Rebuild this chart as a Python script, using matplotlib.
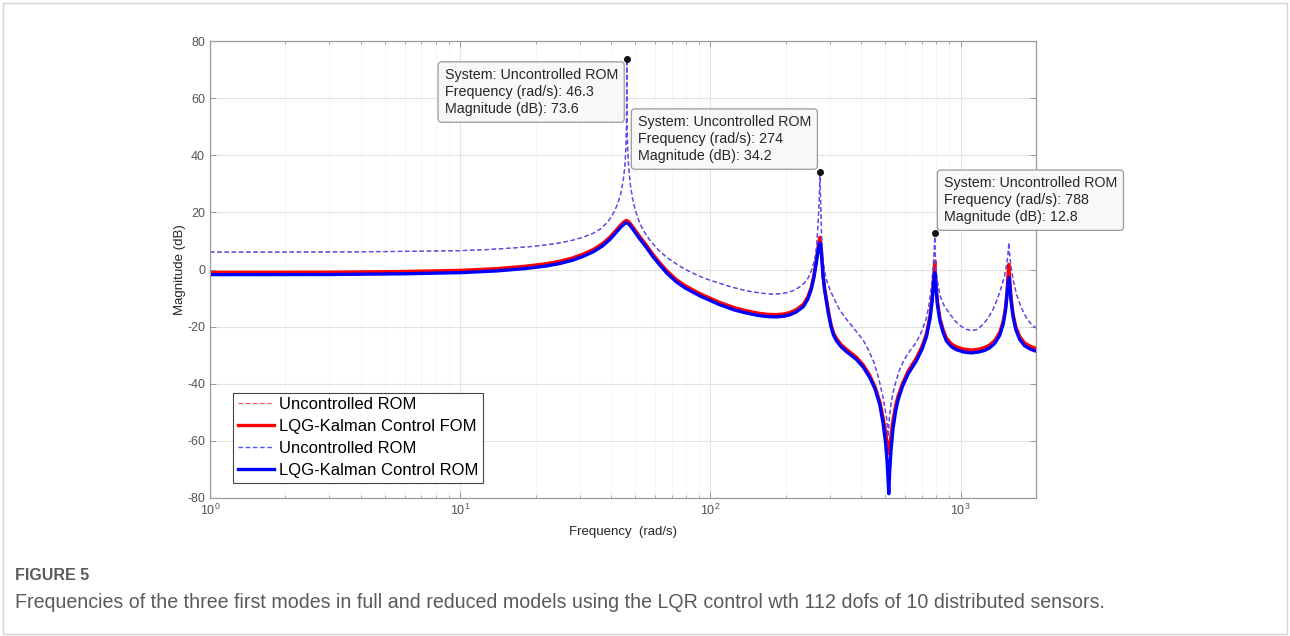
import matplotlib
matplotlib.use('Agg')
import matplotlib.pyplot as plt
from matplotlib.patches import Rectangle
from matplotlib.ticker import LogLocator, NullFormatter

plt.rcParams['font.family'] = ['Liberation Sans', 'DejaVu Sans']
plt.rcParams['axes.unicode_minus'] = False

# uncontrolled ROM (dashed)
unc_f = [1, 2, 4, 7, 10, 13, 16, 19, 22, 25, 28, 31, 34, 36.5, 39, 41, 42.5, 43.8, 44.8, 45.5,
         45.9, 46.15, 46.3, 46.45, 46.7, 47.1, 47.8, 48.8, 50, 51.5, 53, 55, 57, 59.5, 62, 65, 68,
         71.5, 75, 78.5, 82, 86, 90, 95, 100, 106, 112, 120, 130, 140, 152, 164, 177, 190, 205,
         217, 228, 238, 246, 253, 259, 263, 266, 269.5, 272, 274, 276, 278, 281, 286, 292, 300,
         315, 328, 345, 360, 380, 407, 430, 450, 470, 490, 505, 513, 519, 527, 537, 552, 571, 595,
         626, 665, 700, 730, 750, 764, 775, 782, 786, 788, 790, 794, 800, 812, 830, 860, 904, 950,
         1000, 1050, 1104, 1160, 1220, 1280, 1346, 1400, 1450, 1495, 1525, 1545, 1557, 1570, 1590,
         1620, 1670, 1740, 1820, 1900, 2000]
unc_db = [6.1, 6.1, 6.2, 6.4, 6.6, 7.0, 7.5, 8.0, 8.6, 9.3, 10.2, 11.3, 12.7, 14.3, 16.8, 19.8,
          22.8, 26.5, 31.0, 36.0, 42.0, 50.0, 73.6, 50.0, 42.0, 36.0, 30.0, 25.0, 21.0, 17.5, 15.0,
          12.5, 10.5, 8.6, 6.8, 5.2, 3.8, 2.5, 1.3, 0.3, -0.6, -1.5, -2.3, -3.1, -3.8, -4.5, -5.2,
          -6.0, -6.8, -7.5, -8.0, -8.4, -8.6, -8.5, -8.0, -7.2, -6.0, -4.6, -2.9, -0.5, 2.5, 5.0,
          8.5, 17.0, 24.0, 34.2, 22.0, 12.0, 4.0, -1.0, -4.0, -7.0, -11.0, -14.0, -16.8, -18.8,
          -21.3, -24.6, -28.5, -32.5, -38.0, -45.0, -51.5, -58.5, -52.0, -47.0, -43.0, -39.0, -35.0,
          -31.5, -28.5, -25.5, -21.5, -17.0, -11.5, -6.0, 0.0, 5.0, 9.0, 12.8, 8.0, 3.0, -1.5, -5.5,
          -9.5, -12.8, -15.5, -18.0, -19.8, -20.9, -21.4, -21.0, -19.5, -17.3, -14.0, -10.5, -6.5,
          -2.5, 1.5, 5.0, 9.4, 5.0, 1.0, -3.5, -8.5, -13.0, -16.5, -18.8, -20.5]

# LQG-Kalman controlled responses (solid)
ctl_f = [1, 3, 6, 10, 14, 18, 22, 25, 28, 31, 34, 37, 39.6, 42, 44, 45.3, 46.2, 47.2, 48.5, 50,
         52, 55.6, 59, 62.7, 67, 73, 79, 85.3, 92, 99.5, 108, 116, 125, 135.5, 147, 158, 170, 182,
         195, 207, 220, 235, 245, 253, 259, 264, 268, 271, 274, 276.5, 279, 282, 286, 291, 296, 303,
         310, 319, 333, 350, 367, 384, 408, 433, 455, 475, 490, 500, 508, 513, 516, 520, 527, 537,
         550, 562, 585, 617, 665, 700, 730, 755, 770, 779, 785, 788, 791, 797, 808, 826, 850, 878,
         920, 962, 1030, 1104, 1180, 1250, 1307, 1370, 1433, 1480, 1510, 1530, 1545, 1557, 1570,
         1590, 1619, 1660, 1722, 1800, 1900, 2000]
fom_db = [-1.0, -0.95, -0.7, -0.3, 0.3, 1.1, 2.0, 2.9, 4.0, 5.4, 7.0, 9.0, 11.3, 13.8, 15.8, 16.8,
          17.2, 16.7, 15.4, 13.8, 11.7, 8.4, 5.2, 2.4, -0.5, -3.5, -5.6, -7.2, -8.7, -10.0, -11.4,
          -12.4, -13.4, -14.2, -14.9, -15.4, -15.7, -15.8, -15.6, -15.1, -14.1, -12.2, -9.6, -6.1,
          -2.1, 2.5, 6.7, 9.8, 11.3, 8.8, 4.0, -1.9, -6.6, -10.6, -14.6, -19.1, -22.1, -24.2, -26.3,
          -28.0, -29.4, -30.8, -33.4, -37.0, -41.1, -46.3, -52.0, -56.5, -60.5, -63.5, -64.5, -62.5,
          -58.0, -52.5, -47.5, -44.3, -40.0, -35.5, -31.0, -27.0, -22.5, -16.0, -9.4, -3.6, 1.0,
          2.9, 0.5, -5.3, -11.5, -17.0, -21.0, -24.1, -26.1, -27.1, -27.9, -28.2, -27.9, -27.3,
          -26.4, -24.8, -22.0, -18.0, -13.5, -8.3, -2.3, 1.8, -2.8, -10.0, -15.5, -20.0, -23.5,
          -25.7, -26.9, -27.6]
rom_db = [-1.8, -1.75, -1.5, -1.1, -0.5, 0.3, 1.2, 2.1, 3.2, 4.6, 6.2, 8.2, 10.5, 13.0, 15.0, 16.0,
          16.4, 15.9, 14.6, 13.0, 10.9, 7.6, 4.4, 1.6, -1.3, -4.3, -6.4, -8.0, -9.5, -10.8, -12.2,
          -13.2, -14.2, -15.0, -15.7, -16.2, -16.5, -16.6, -16.4, -15.9, -14.9, -13.0, -10.4, -6.9,
          -2.9, 1.5, 5.3, 7.9, 9.3, 7.2, 3.0, -2.7, -7.4, -11.4, -15.4, -19.9, -22.9, -25.0, -27.1,
          -28.8, -30.2, -31.6, -34.2, -37.8, -41.9, -47.3, -54.0, -60.0, -67.0, -74.0, -78.5, -71.0,
          -63.0, -55.5, -49.5, -45.7, -41.0, -36.5, -32.0, -28.0, -23.5, -17.0, -10.6, -5.4, -2.0,
          -1.1, -2.5, -6.7, -12.5, -18.0, -22.0, -25.1, -27.1, -28.1, -28.9, -29.2, -28.9, -28.3,
          -27.4, -25.8, -23.0, -19.0, -14.5, -9.7, -4.7, -2.8, -5.2, -11.0, -16.5, -21.0, -24.5,
          -26.7, -27.9, -28.6]

# data tips
tip_f = [46.3, 274, 788]
tip_db = [73.6, 34.2, 12.8]

fig = plt.figure(figsize=(12.9, 6.36), dpi=100)
ax = fig.add_axes([0.1628, 0.2170, 0.6403, 0.7185])

ax.plot(unc_f, unc_db, color='#ff5050', lw=0.8, ls=(0, (4, 2.5)), label='Uncontrolled ROM')
ax.plot(ctl_f, fom_db, color='red', lw=2.4, label='LQG-Kalman Control FOM')
ax.plot(unc_f, unc_db, color='#5050ff', lw=1.0, ls=(0, (3.2, 2.0)), label='Uncontrolled ROM')
ax.plot(ctl_f, rom_db, color='blue', lw=2.4, label='LQG-Kalman Control ROM')

ax.set_xscale('log')
ax.set_xlim(1, 2000)
ax.set_ylim(-80, 80)
ax.set_yticks(range(-80, 81, 20))
ax.xaxis.set_minor_locator(LogLocator(base=10, subs=range(2, 10), numticks=20))
ax.xaxis.set_minor_formatter(NullFormatter())

ax.grid(True, which='major', color='#e3e3e3', lw=0.8)
ax.grid(True, which='minor', axis='x', color='#e6e6e6', lw=0.7, ls=':')
ax.set_axisbelow(True)

ax.tick_params(which='both', direction='in', top=True, right=True, colors='#999999',
               labelcolor='#555555', labelsize=9)
ax.tick_params(which='major', length=4.5, width=0.7)
ax.tick_params(which='minor', length=2.5, width=0.6)
for s in ax.spines.values():
    s.set_color('#9a9a9a')
    s.set_linewidth(0.9)

ax.set_xlabel('Frequency  (rad/s)', fontsize=9.5, color='#262626', labelpad=6)
ax.set_ylabel('Magnitude (dB)', fontsize=9.5, color='#262626', labelpad=1)

leg = ax.legend(loc='lower left', bbox_to_anchor=(0.028, 0.033), borderaxespad=0,
                prop={'size': 12}, fancybox=False, edgecolor='#444444', framealpha=1,
                handlelength=2.2, handletextpad=0.25, labelspacing=0.42, borderpad=0.28)
leg.get_frame().set_linewidth(0.8)

# data tip boxes
tip_pos = [(-9, -9, 'right', 'top'), (-9, 9, 'right', 'bottom'), (9, 9, 'left', 'bottom')]
for f, m, (dx, dy, ha, va) in zip(tip_f, tip_db, tip_pos):
    ax.plot([f], [m], 'o', color='#111111', ms=4, zorder=6)
    txt = 'System: Uncontrolled ROM\nFrequency (rad/s): %g\nMagnitude (dB): %g' % (f, m)
    ax.annotate(txt, xy=(f, m), xytext=(dx, dy), textcoords='offset pixels', ha=ha, va=va,
                multialignment='left', fontsize=10.3, color='#262626', linespacing=1.25,
                zorder=7,
                bbox=dict(boxstyle='round,pad=0.45,rounding_size=0.25', fc='#f8f8fa',
                          ec='#9a9a9a', lw=0.9))

# caption
fig.text(15 / 1290, 1 - 575 / 636, 'FIGURE 5', fontsize=11.5, fontweight='bold',
         color='#5a5a5a', va='center')
fig.text(15 / 1290, 1 - 603 / 636,
         'Frequencies of the three first modes in full and reduced models using the LQR control '
         'wth 112 dofs of 10 distributed sensors.',
         fontsize=14.15, color='#5a5a5a', va='center')

fig.patches.append(Rectangle((0.002, 0.003), 0.996, 0.993, transform=fig.transFigure,
                             fill=False, ec='#d4d4d4', lw=1))

fig.savefig('out.png', dpi=100, facecolor='w')
